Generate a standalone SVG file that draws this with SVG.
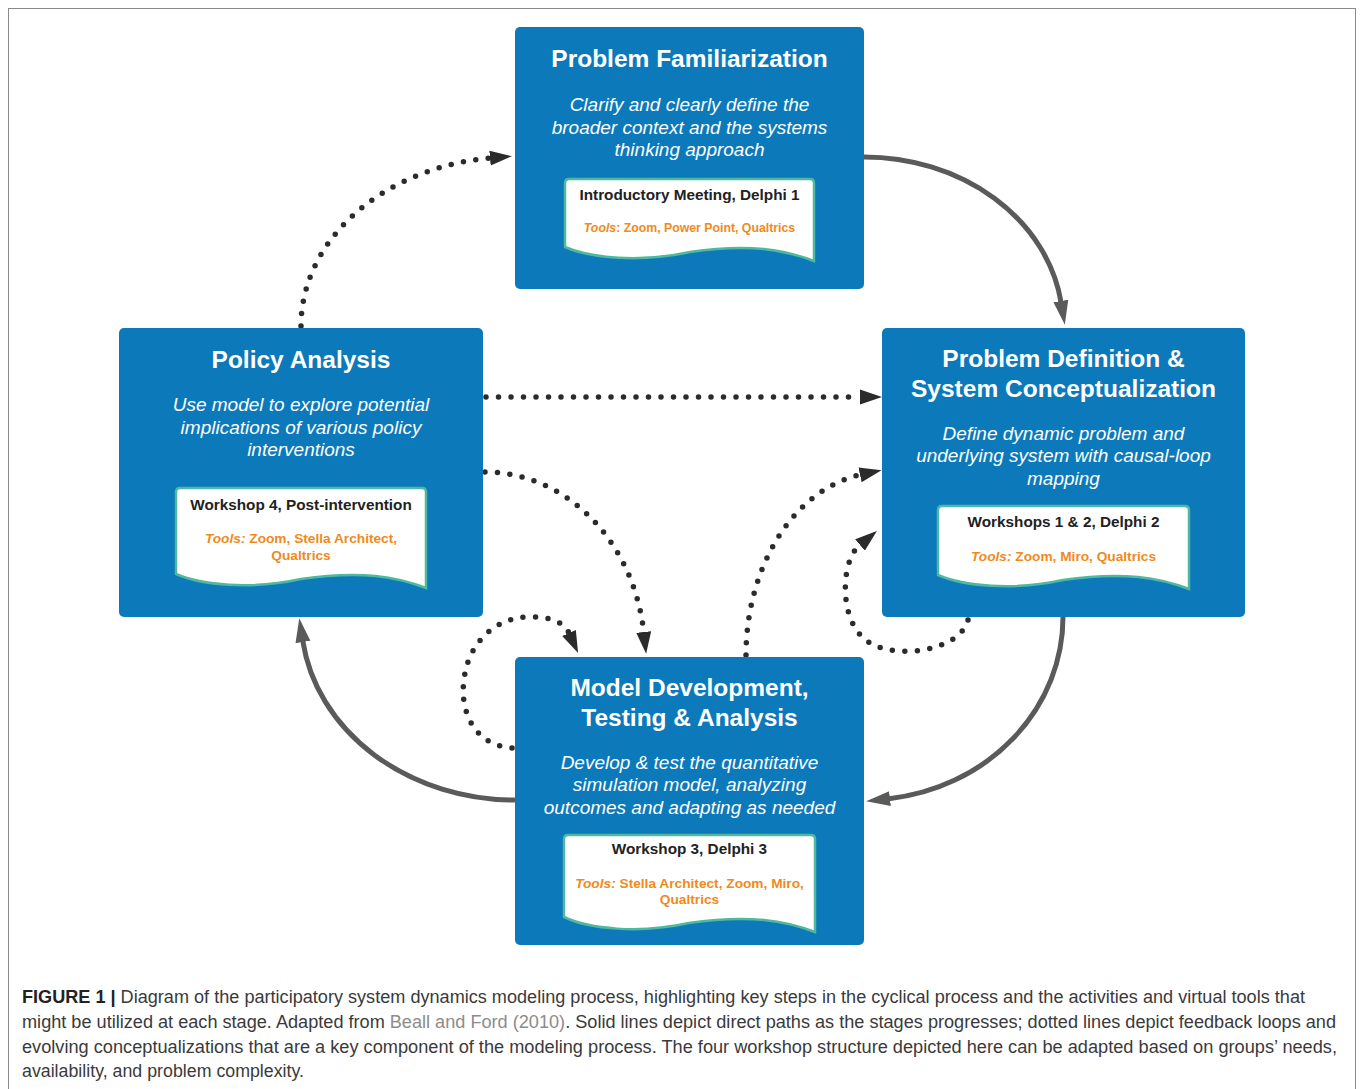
<svg xmlns="http://www.w3.org/2000/svg" width="1360" height="1089" viewBox="0 0 1360 1089">
<style>
.node{fill:#0b79ba}
.title{font-family:"Liberation Sans",Arial,sans-serif;font-weight:bold;font-size:24.5px;fill:#fff;text-anchor:middle}
.desc{font-family:"Liberation Sans",Arial,sans-serif;font-style:italic;font-size:19px;fill:#fff;text-anchor:middle}
.doc{fill:#fff;stroke:#4fb89f;stroke-width:2.5}
.dtitle{font-family:"Liberation Sans",Arial,sans-serif;font-weight:bold;font-size:15.3px;fill:#222;text-anchor:middle}
.tools{font-family:"Liberation Sans",Arial,sans-serif;font-weight:bold;font-size:13.7px;fill:#f08a1c;text-anchor:middle}
.it{font-style:italic}
.solid{fill:none;stroke:#5a5a5a;stroke-width:5}
.dot{fill:none;stroke:#2b2b2b;stroke-width:5.5;stroke-linecap:round;stroke-dasharray:0 12.5}
.cap{font-family:"Liberation Sans Narrow","Liberation Sans",Arial,sans-serif;font-size:17.5px;fill:#3a3a3a}
</style>
<defs>
<marker id="solidArrow" markerUnits="userSpaceOnUse" viewBox="0 -10 26 20" markerWidth="26" markerHeight="20" refX="1" refY="0" orient="auto">
<path d="M0,-7.5 L24,0 L0,7.5 Z" fill="#5a5a5a"/>
</marker>
<marker id="dotArrow" markerUnits="userSpaceOnUse" viewBox="0 -10 26 20" markerWidth="26" markerHeight="20" refX="0" refY="0" orient="auto">
<path d="M0,-7.5 L22,0 L0,7.5 Z" fill="#2b2b2b"/>
</marker>
</defs>
<rect x="8.5" y="8.5" width="1347" height="1100" fill="#fff" stroke="#8a8a8a" stroke-width="1"/>

<g id="connectors">
<path class="solid" d="M864,157 A199,169 0 0 1 1061,302" marker-end="url(#solidArrow)"/>
<path class="solid" d="M1063,617 A198,183 0 0 1 889,798.7" marker-end="url(#solidArrow)"/>
<path class="solid" d="M515,800 A214,183 0 0 1 302.8,641" marker-end="url(#solidArrow)"/>
<path class="dot" d="M301,326 A213,169 0 0 1 490,158.1" marker-end="url(#dotArrow)"/>
<path class="dot" d="M486,397 H860" marker-end="url(#dotArrow)"/>
<path class="dot" d="M485,472 A160,183 0 0 1 643.7,632" marker-end="url(#dotArrow)"/>
<path class="dot" d="M746,655 A136,183 0 0 1 860,474.9" marker-end="url(#dotArrow)"/>
<path class="dot" d="M512,748 C470,745 460,705 464,680 C468,640 500,615 532,617 C550,617 564,622 569,633" marker-end="url(#dotArrow)"/>
<path class="dot" d="M968,620 C960,650 900,660 870,643 C845,628 842,590 848,566 C851,556 854,550 860,545" marker-end="url(#dotArrow)"/>
</g>

<g id="node-problem-familiarization">
<rect class="node" x="515" y="27" width="349" height="262" rx="5"/>
<text class="title" x="689.5" y="67">Problem Familiarization</text>
<text class="desc" x="689.5" y="111">Clarify and clearly define the</text>
<text class="desc" x="689.5" y="133.5">broader context and the systems</text>
<text class="desc" x="689.5" y="156">thinking approach</text>
<path class="doc" d="M565,247 V183 Q565,179 569,179 H810 Q814,179 814,183 V261 C785,250 750,243 690,252 C640,263 590,258 565,247 Z"/>
<text class="dtitle" x="689.5" y="200">Introductory Meeting, Delphi 1</text>
<text class="tools" x="689.5" y="232" style="font-size:12.3px"><tspan class="it">Tools</tspan>: Zoom, Power Point, Qualtrics</text>
</g>

<g id="node-policy-analysis">
<rect class="node" x="119" y="328" width="364" height="289" rx="5"/>
<text class="title" x="301" y="368">Policy Analysis</text>
<text class="desc" x="301" y="411">Use model to explore potential</text>
<text class="desc" x="301" y="433.5">implications of various policy</text>
<text class="desc" x="301" y="456">interventions</text>
<path class="doc" d="M176,574 V492 Q176,488 180,488 H422 Q426,488 426,492 V588 C397,577 362,570 301,579 C251,590 201,585 176,574 Z"/>
<text class="dtitle" x="301" y="509.5">Workshop 4, Post-intervention</text>
<text class="tools" x="301" y="543"><tspan class="it">Tools:</tspan> Zoom, Stella Architect,</text>
<text class="tools" x="301" y="559.5">Qualtrics</text>
</g>

<g id="node-problem-definition">
<rect class="node" x="882" y="328" width="363" height="289" rx="5"/>
<text class="title" x="1063.5" y="367">Problem Definition &amp;</text>
<text class="title" x="1063.5" y="396.5">System Conceptualization</text>
<text class="desc" x="1063.5" y="439.5">Define dynamic problem and</text>
<text class="desc" x="1063.5" y="462">underlying system with causal-loop</text>
<text class="desc" x="1063.5" y="484.5">mapping</text>
<path class="doc" d="M938,575 V510 Q938,506 942,506 H1185 Q1189,506 1189,510 V589 C1160,578 1124,571 1063,580 C1013,591 963,586 938,575 Z"/>
<text class="dtitle" x="1063.5" y="527">Workshops 1 &amp; 2, Delphi 2</text>
<text class="tools" x="1063.5" y="560.5"><tspan class="it">Tools:</tspan> Zoom, Miro, Qualtrics</text>
</g>

<g id="node-model-development">
<rect class="node" x="515" y="657" width="349" height="288" rx="5"/>
<text class="title" x="689.5" y="696">Model Development,</text>
<text class="title" x="689.5" y="725.5">Testing &amp; Analysis</text>
<text class="desc" x="689.5" y="768.5">Develop &amp; test the quantitative</text>
<text class="desc" x="689.5" y="791">simulation model, analyzing</text>
<text class="desc" x="689.5" y="813.5">outcomes and adapting as needed</text>
<path class="doc" d="M564,917 V839 Q564,835 568,835 H811 Q815,835 815,839 V932 C786,921 750,914 689,923 C639,934 589,929 564,917 Z"/>
<text class="dtitle" x="689.5" y="854">Workshop 3, Delphi 3</text>
<text class="tools" x="689.5" y="887.5"><tspan class="it">Tools:</tspan> Stella Architect, Zoom, Miro,</text>
<text class="tools" x="689.5" y="903.5">Qualtrics</text>
</g>

<g id="caption">
<text class="cap" x="22" y="1003" textLength="1283" lengthAdjust="spacingAndGlyphs"><tspan font-weight="bold" fill="#222">FIGURE 1 |</tspan> Diagram of the participatory system dynamics modeling process, highlighting key steps in the cyclical process and the activities and virtual tools that</text>
<text class="cap" x="22" y="1028" textLength="1314" lengthAdjust="spacingAndGlyphs">might be utilized at each stage. Adapted from <tspan fill="#8c8c8c">Beall and Ford (2010)</tspan>. Solid lines depict direct paths as the stages progresses; dotted lines depict feedback loops and</text>
<text class="cap" x="22" y="1053" textLength="1315" lengthAdjust="spacingAndGlyphs">evolving conceptualizations that are a key component of the modeling process. The four workshop structure depicted here can be adapted based on groups’ needs,</text>
<text class="cap" x="22" y="1077" textLength="282" lengthAdjust="spacingAndGlyphs">availability, and problem complexity.</text>
</g>
</svg>
